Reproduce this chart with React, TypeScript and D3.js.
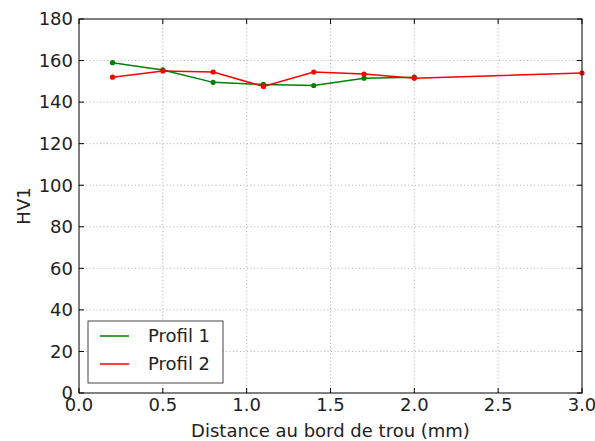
import * as d3 from "d3";

const xs = [0.2, 0.5, 0.8, 1.1, 1.4, 1.7, 2.0];
const profil1 = [159, 155.5, 149.5, 148.5, 148, 151.5, 152];
const xs2 = [0.2, 0.5, 0.8, 1.1, 1.4, 1.7, 2.0, 3.0];
const profil2 = [152, 155, 154.5, 147.5, 154.5, 153.5, 151.5, 154];
const xTicks = [0, 0.5, 1, 1.5, 2, 2.5, 3];
const yTicks = [0, 20, 40, 60, 80, 100, 120, 140, 160, 180];

const series = [
  { name: "Profil 1", color: "#008000", x: xs, y: profil1 },
  { name: "Profil 2", color: "#ff0000", x: xs2, y: profil2 },
];

export default function App() {
  const width = 595;
  const height = 441;
  const margin = { top: 19, right: 13, bottom: 48, left: 79 };
  const x = d3.scaleLinear().domain([0, 3]).range([margin.left, width - margin.right]);
  const y = d3.scaleLinear().domain([0, 180]).range([height - margin.bottom, margin.top]);
  const font = "DejaVu Sans, sans-serif";
  const fs = 18;
  const line = d3.line<[number, number]>()
    .x(d => x(d[0]))
    .y(d => y(d[1]));
  const [x0, x1] = x.range();
  const [y0, y1] = y.range();

  return (
    <svg width={width} height={height} style={{ position: "absolute", left: 0, top: 0, background: "white" }} fontFamily={font}>
      {xTicks.slice(1, -1).map(t => (
        <line key={"gx" + t} x1={x(t)} x2={x(t)} y1={y0} y2={y1} stroke="#b0b0b0" strokeDasharray="1,2.5" />
      ))}
      {yTicks.slice(1, -1).map(t => (
        <line key={"gy" + t} x1={x0} x2={x1} y1={y(t)} y2={y(t)} stroke="#b0b0b0" strokeDasharray="1,2.5" />
      ))}
      {series.map(s => {
        const pts = s.x.map((v, i) => [v, s.y[i]] as [number, number]);
        return (
          <g key={s.name}>
            <path d={line(pts) ?? ""} fill="none" stroke={s.color} strokeWidth={1.5} />
            {pts.map((p, i) => (
              <circle key={i} cx={x(p[0])} cy={y(p[1])} r={2.6} fill={s.color} />
            ))}
          </g>
        );
      })}
      {xTicks.map(t => (
        <g key={"tx" + t}>
          <line x1={x(t)} x2={x(t)} y1={y0} y2={y0 - 5} stroke="black" />
          <line x1={x(t)} x2={x(t)} y1={y1} y2={y1 + 5} stroke="black" />
          <text x={x(t)} y={y0 + 18} textAnchor="middle" fontSize={fs} fill="#222">{t.toFixed(1)}</text>
        </g>
      ))}
      {yTicks.map(t => (
        <g key={"ty" + t}>
          <line x1={x0} x2={x0 + 5} y1={y(t)} y2={y(t)} stroke="black" />
          <line x1={x1} x2={x1 - 5} y1={y(t)} y2={y(t)} stroke="black" />
          <text x={x0 - 6} y={y(t)} dy="0.35em" textAnchor="end" fontSize={fs} fill="#222">{t}</text>
        </g>
      ))}
      <rect x={x0} y={y1} width={x1 - x0} height={y0 - y1} fill="none" stroke="black" strokeWidth={1} />
      <text x={(x0 + x1) / 2} y={437} textAnchor="middle" fontSize={fs} fill="#222">Distance au bord de trou (mm)</text>
      <text transform={`translate(30,${(y0 + y1) / 2}) rotate(-90)`} textAnchor="middle" fontSize={fs} fill="#222">HV1</text>
      <g>
        <rect x={88} y={321} width={135} height={62} fill="white" stroke="#444" strokeWidth={1} />
        {series.map((s, i) => (
          <g key={"lg" + s.name}>
            <line x1={100} x2={129} y1={336 + i * 28} y2={336 + i * 28} stroke={s.color} strokeWidth={1.5} />
            <text x={148} y={336 + i * 28} dy="0.35em" fontSize={fs} fill="#222">{s.name}</text>
          </g>
        ))}
      </g>
    </svg>
  );
}
